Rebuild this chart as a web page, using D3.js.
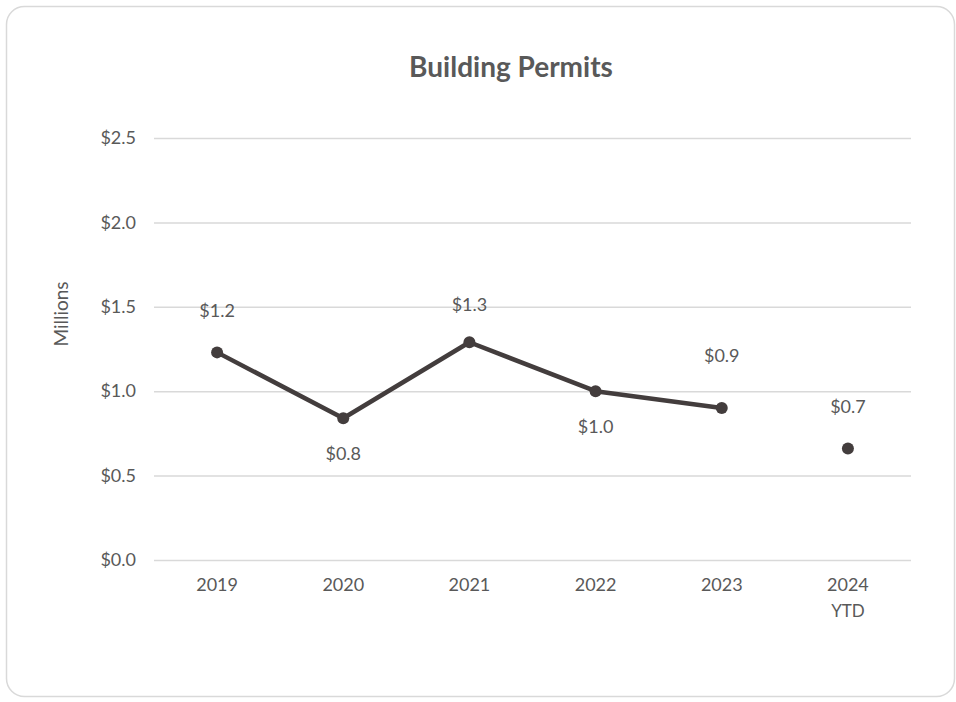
<!DOCTYPE html>
<html>
<head>
<meta charset="utf-8">
<script src="https://cdn.jsdelivr.net/npm/d3@7"></script>
<style>
  html, body { margin: 0; padding: 0; background: #ffffff; }
  svg { display: block; }
</style>
</head>
<body>
<svg id="chart" width="956" height="702"></svg>
<script>
// Building permit values, in millions of dollars
const years = ["2019", "2020", "2021", "2022", "2023", "2024"];
const yearNotes = ["", "", "", "", "", "YTD"];
const permitValues = [1.23, 0.84, 1.29, 1.00, 0.90, 0.66];
// The year-to-date figure is shown as a lone point, not joined to the line
const isPartialYear = [false, false, false, false, false, true];
const yTicks = [0, 0.5, 1.0, 1.5, 2.0, 2.5];

const W = 956, H = 702;
const margin = { top: 138, right: 45, bottom: 142, left: 154 };
const innerW = W - margin.left - margin.right;
const innerH = H - margin.top - margin.bottom;

const textColor = "#595959";
const lineColor = "#433d3d";
const gridColor = "#d9d9d9";
const font = "Lato, 'Open Sans', sans-serif";
const fs = 18;

const svg = d3.select("#chart");

// outer card
svg.append("rect")
  .attr("x", 6.5).attr("y", 6.5)
  .attr("width", 948).attr("height", 690)
  .attr("rx", 18).attr("ry", 18)
  .attr("fill", "#ffffff")
  .attr("stroke", "#d9d9d9")
  .attr("stroke-width", 1.5);

svg.append("text")
  .attr("x", 511).attr("y", 77)
  .attr("text-anchor", "middle")
  .attr("font-family", font)
  .attr("font-weight", "bold")
  .attr("font-size", 28)
  .attr("fill", textColor)
  .text("Building Permits");

const g = svg.append("g").attr("transform", `translate(${margin.left},${margin.top})`);

const x = d3.scaleBand().domain(years).range([0, innerW]).padding(0);
const y = d3.scaleLinear().domain([0, 2.5]).range([innerH, 0]);

const money = v => "$" + d3.format(".1f")(v);

// horizontal gridlines and y-axis labels
const yAxis = d3.axisLeft(y)
  .tickValues(yTicks)
  .tickSize(-innerW)
  .tickPadding(18)
  .tickFormat(money);

const yg = g.append("g").call(yAxis);
yg.select(".domain").remove();
yg.selectAll(".tick line").attr("stroke", gridColor).attr("stroke-width", 1.5);
yg.selectAll(".tick text")
  .attr("fill", textColor)
  .attr("font-family", font)
  .attr("font-size", fs);

// x-axis category labels (with a second line for the partial year)
const xAxis = d3.axisBottom(x).tickSize(0).tickPadding(18).tickFormat(d => d);
const xg = g.append("g").attr("transform", `translate(0,${innerH})`).call(xAxis);
xg.select(".domain").remove();
xg.selectAll(".tick text")
  .attr("fill", textColor)
  .attr("font-family", font)
  .attr("font-size", fs)
  .each(function(d, i) {
    const note = yearNotes[i];
    if (note) {
      d3.select(this.parentNode).append("text")
        .attr("y", 57)
        .attr("text-anchor", "middle")
        .attr("fill", textColor)
        .attr("font-family", font)
        .attr("font-size", fs - 1)
        .text(note);
    }
  });

// y-axis title
svg.append("text")
  .attr("transform", `translate(68,${314}) rotate(-90)`)
  .attr("text-anchor", "middle")
  .attr("font-family", font)
  .attr("font-size", 19)
  .attr("fill", textColor)
  .text("Millions");

const points = years.map((yr, i) => ({
  year: yr, value: permitValues[i], partial: isPartialYear[i]
}));
const cx = d => x(d.year) + x.bandwidth() / 2;

const line = d3.line().x(cx).y(d => y(d.value));

g.append("path")
  .datum(points.filter(d => !d.partial))
  .attr("d", line)
  .attr("fill", "none")
  .attr("stroke", lineColor)
  .attr("stroke-width", 4.5)
  .attr("stroke-linejoin", "round");

g.selectAll("circle.pt")
  .data(points)
  .join("circle")
  .attr("class", "pt")
  .attr("cx", cx)
  .attr("cy", d => y(d.value))
  .attr("r", 6)
  .attr("fill", lineColor);

// value labels: placed above or below each marker
const labelShift = [-42, 35, -38, 35, -52, -42];
g.selectAll("text.val")
  .data(points)
  .join("text")
  .attr("class", "val")
  .attr("x", cx)
  .attr("y", (d, i) => y(d.value) + labelShift[i])
  .attr("dy", "0.35em")
  .attr("text-anchor", "middle")
  .attr("font-family", font)
  .attr("font-size", fs)
  .attr("fill", textColor)
  .text(d => money(d.value));
</script>
</body>
</html>
